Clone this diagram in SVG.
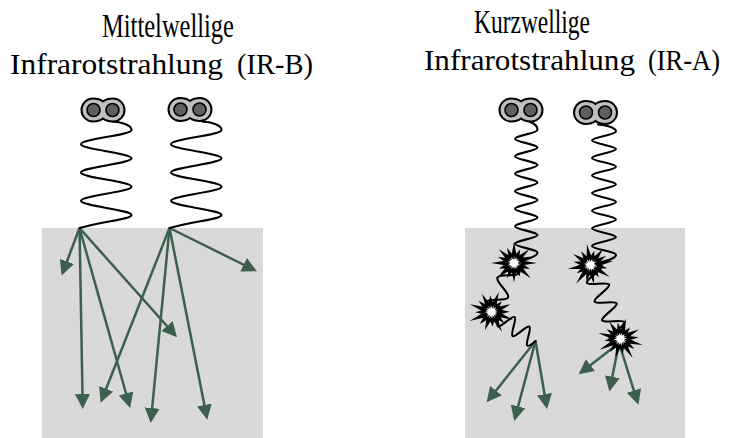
<svg xmlns="http://www.w3.org/2000/svg" xmlns:xlink="http://www.w3.org/1999/xlink" width="731" height="438" viewBox="0 0 731 438">
  <style>
    .title { font-family: "Liberation Serif", "Times New Roman", serif; font-size: 30px; fill: #000; }
    .head1 { font-size: 33px; }
    .tissue { fill: #d9d9d9; stroke: none; }
    .wave { fill: none; stroke: #000; stroke-width: 2.1; stroke-linejoin: round; stroke-linecap: round; }
    .ray { stroke: #3c5f4e; stroke-width: 2.5; fill: none; marker-end: url(#head); }
    .shell { fill: #c0c0c0; stroke: #000; stroke-width: 2; }
    .core { fill: #5f5f5f; stroke: #000; stroke-width: 1.6; }
    .burst { fill: #fff; stroke: #000; stroke-width: 2.6; stroke-linejoin: miter; stroke-miterlimit: 8; }
  </style>
  <defs>
    <marker id="head" markerUnits="userSpaceOnUse" viewBox="0 0 16 16" markerWidth="16" markerHeight="16" refX="12" refY="8" orient="auto">
      <path d="M0,0.5 L15,8 L0,15.5 Z" fill="#3c5f4e"/>
    </marker>
    <!-- lamp: two dark cores in a light shell -->
    <g id="lamp">
      <path class="shell" d="M0,-8.5 C-3,-10.8 -6,-11.5 -10,-11.5 C-16.4,-11.5 -21.5,-6.4 -21.5,0 C-21.5,6.4 -16.4,11.5 -10,11.5 C-6,11.5 -3,10.8 0,8.5 C3,10.8 6,11.5 10,11.5 C16.4,11.5 21.5,6.4 21.5,0 C21.5,-6.4 16.4,-11.5 10,-11.5 C6,-11.5 3,-10.8 0,-8.5 Z"/>
      <circle class="core" cx="-9.5" cy="0" r="6.5"/>
      <circle class="core" cx="9.5" cy="0" r="6.5"/>
    </g>
    <!-- absorption flash: 16-point jagged star -->
    <path id="flash" class="burst" d="M14.85,0 L7.01,1.27 L11.18,4.21 L5.95,3.61 L10.89,9.9 L3.97,5.4 L4.42,9.7 L1.39,6.38 L0,13 L-1.39,6.38 L-4.84,10.62 L-3.97,5.4 L-11.28,10.25 L-5.95,3.61 L-10.67,4.02 L-7.01,1.27 L-14.85,0 L-7.01,-1.27 L-11.18,-4.21 L-5.95,-3.61 L-10.11,-9.19 L-3.97,-5.4 L-4.84,-10.62 L-1.39,-6.38 L0,-14 L1.39,-6.38 L4.42,-9.7 L3.97,-5.4 L10.11,-9.19 L5.95,-3.61 L11.69,-4.4 L7.01,-1.27 Z"/>
  </defs>

  <!-- headings -->
  <g id="titles">
    <text class="title head1" x="102" y="37" textLength="132" lengthAdjust="spacingAndGlyphs">Mittelwellige</text>
    <text class="title" y="74"><tspan x="10" textLength="213" lengthAdjust="spacingAndGlyphs">Infrarotstrahlung</tspan> <tspan x="237" textLength="76" lengthAdjust="spacingAndGlyphs">(IR-B)</tspan></text>
    <text class="title head1" x="474" y="33" textLength="116" lengthAdjust="spacingAndGlyphs">Kurzwellige</text>
    <text class="title" y="70"><tspan x="424" textLength="211" lengthAdjust="spacingAndGlyphs">Infrarotstrahlung</tspan> <tspan x="648" textLength="72" lengthAdjust="spacingAndGlyphs">(IR-A)</tspan></text>
  </g>

  <!-- IR-B: medium wave, scattered deep into the tissue -->
  <g id="panel-irb">
    <rect class="tissue" x="42" y="228" width="221" height="210"/>
    <g id="rays-irb">
      <line class="ray" x1="79.5" y1="228" x2="62.7" y2="272.7"/>
      <line class="ray" x1="79.5" y1="228" x2="82.7" y2="406"/>
      <line class="ray" x1="79.5" y1="228" x2="129.3" y2="405"/>
      <line class="ray" x1="79.5" y1="228" x2="175" y2="335"/>
      <line class="ray" x1="169.5" y1="228" x2="101.7" y2="400"/>
      <line class="ray" x1="169.5" y1="228" x2="151" y2="420"/>
      <line class="ray" x1="169.5" y1="228" x2="206.7" y2="416.7"/>
      <line class="ray" x1="169.5" y1="228" x2="254.3" y2="270"/>
    </g>
    <g id="waves-irb">
      <path id="wave-b" class="wave" d="M112,121.5 C121,122 131.5,125 131.5,130 C131.5,135.15 81,139.02 81,144.17 S131.5,153.18 131.5,158.33 S81,167.35 81,172.5 S131.5,181.52 131.5,186.67 S81,195.68 81,200.83 S131.5,209.85 131.5,215 C131.5,219 105,221 79.5,228"/>
      <use xlink:href="#wave-b" transform="translate(90,0)"/>
    </g>
    <g id="lamp-b1"><use xlink:href="#lamp" transform="translate(103,110)"/></g>
    <g id="lamp-b2"><use xlink:href="#lamp" transform="translate(190,109.5)"/></g>
  </g>

  <!-- IR-A: short wave, absorbed in steps -->
  <g id="panel-ira">
    <rect class="tissue" x="465" y="228" width="220" height="210"/>
    <g id="rays-ira">
      <line class="ray" x1="535.5" y1="341" x2="488.5" y2="400"/>
      <line class="ray" x1="535.5" y1="341" x2="515" y2="418"/>
      <line class="ray" x1="535.5" y1="341" x2="546.5" y2="406"/>
      <line class="ray" x1="619" y1="343" x2="581" y2="372.5"/>
      <line class="ray" x1="619" y1="343" x2="610" y2="388.5"/>
      <line class="ray" x1="619" y1="343" x2="637.5" y2="402"/>
    </g>
    <g id="waves-ira">
      <path class="wave" d="M530,122 C533,123 537.5,125 537.5,130 C537.5,133.18 515,135.57 515,138.75 S537.5,144.32 537.5,147.5 S515,153.07 515,156.25 S537.5,161.82 537.5,165 S515,170.57 515,173.75 S537.5,179.32 537.5,182.5 S515,188.07 515,191.25 S537.5,196.82 537.5,200 S515,205.57 515,208.75 S537.5,214.32 537.5,217.5 S515,223.07 515,226.25 S537.5,231.82 537.5,235 S515,240.57 515,243.75 S537.5,249.32 537.5,252.5 C537.5,256.5 526,260 514,263"/>
      <path class="wave" transform="translate(514,263) rotate(24.66)" d="M0,0 C4.68,2.23 9,4.05 9,6.75 C9,11.65 -9,15.35 -9,20.25 S9,28.85 9,33.75 S-9,42.35 -9,47.25 C-9,49.95 -4.68,51.77 0,54"/>
      <path class="wave" transform="translate(491.5,312) rotate(-56.7)" d="M0,0 C4.42,1.46 8.5,2.65 8.5,4.41 C8.5,7.61 -8.5,10.03 -8.5,13.23 S8.5,18.85 8.5,22.05 S-8.5,27.67 -8.5,30.87 S8.5,36.49 8.5,39.69 S-8.5,45.31 -8.5,48.51 C-8.5,50.27 -4.42,51.46 0,52.92"/>
      <path class="wave" d="M598,124.5 C604,125 616,127 616,131.5 C616,134.7 592,137.1 592,140.3 S616,145.9 616,149.1 S592,154.7 592,157.9 S616,163.5 616,166.7 S592,172.3 592,175.5 S616,181.1 616,184.3 S592,189.9 592,193.1 S616,198.7 616,201.9 S592,207.5 592,210.7 S616,216.3 616,219.5 S592,225.1 592,228.3 S616,233.9 616,237.1 S592,242.7 592,245.9 S616,251.5 616,254.7 C616,259 603,262 590.5,265"/>
      <path class="wave" transform="translate(590.5,265) rotate(-22)" d="M0,0 C5.2,1.67 10,3.03 10,5.05 C10,8.72 -10,11.48 -10,15.15 S10,21.58 10,25.25 S-10,31.68 -10,35.35 S10,41.78 10,45.45 S-10,51.88 -10,55.55 S10,61.98 10,65.65 S-10,72.08 -10,75.75 C-10,77.77 -5.2,79.13 0,80.8"/>
    </g>
    <g id="flashes">
      <use xlink:href="#flash" transform="translate(514,263)"/>
      <use xlink:href="#flash" transform="translate(491.5,312) rotate(20)"/>
      <use xlink:href="#flash" transform="translate(590.5,265) rotate(-10)"/>
      <use xlink:href="#flash" transform="translate(620.5,339) rotate(15)"/>
    </g>
    <g id="lamp-a1"><use xlink:href="#lamp" transform="translate(521,110)"/></g>
    <g id="lamp-a2"><use xlink:href="#lamp" transform="translate(595.5,112.5)"/></g>
  </g>
</svg>
